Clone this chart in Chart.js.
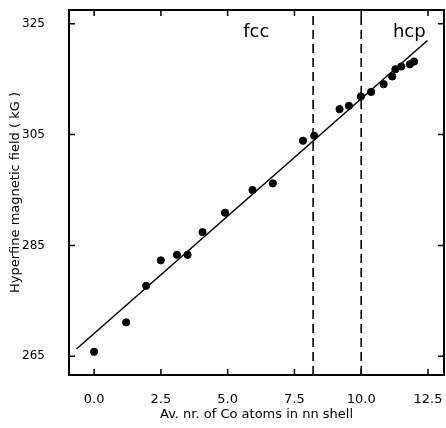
<!DOCTYPE html>
<html>
<head>
    <script src="https://cdn.jsdelivr.net/npm/chart.js"></script>
    <style>
        body { margin: 0; background: #fff; }
    </style>
</head>
<body>
    <canvas id="hfChart" width="446" height="428"></canvas>
    <script>
        // measured points
        const coAtoms = [0.0, 1.2, 1.95, 2.5, 3.1, 3.5, 4.06, 4.9, 5.93, 6.69, 7.82, 8.24,
                         9.19, 9.54, 9.99, 10.37, 10.84, 11.16, 11.28, 11.5, 11.82, 11.98];
        const hfField = [265.8, 271.1, 277.7, 282.3, 283.3, 283.3, 287.4, 290.9, 295.0, 296.2, 303.9, 304.8,
                         309.6, 310.2, 311.9, 312.7, 314.1, 315.5, 316.8, 317.3, 317.7, 318.2];

        // fitted straight line (end points)
        const fitX = [-0.66, 12.48];
        const fitY = [266.3, 322.0];

        // phase boundaries
        const boundaries = [8.2, 10.0];
        const phaseLabels = ['fcc', 'hcp'];
        const phaseLabelX = [6.07, 11.8];
        const phaseLabelY = 323.4;

        const xTicks = [0, 2.5, 5, 7.5, 10, 12.5];
        const yTicks = [265, 285, 305, 325];
        const xMin = -0.94, xMax = 13.1;
        const yMin = 261.6, yMax = 327.5;

        const font = "'DejaVu Sans'";

        const datasets = [{
            label: 'data',
            data: coAtoms.map((x, i) => ({x: x, y: hfField[i]})),
            backgroundColor: '#000',
            borderColor: '#000',
            pointRadius: 3.6,
            showLine: false
        }, {
            label: 'fit',
            data: fitX.map((x, i) => ({x: x, y: fitY[i]})),
            borderColor: '#000',
            borderWidth: 1.5,
            pointRadius: 0,
            showLine: true
        }];
        boundaries.forEach(b => {
            datasets.push({
                label: 'boundary',
                data: [{x: b, y: yMin}, {x: b, y: yMax}],
                borderColor: '#000',
                borderWidth: 1.6,
                borderDash: [9, 5],
                pointRadius: 0,
                showLine: true
            });
        });

        // frame, inward ticks and phase labels
        const framePlugin = {
            id: 'frame',
            afterDraw(chart) {
                const ctx = chart.ctx;
                const a = chart.chartArea;
                const xs = chart.scales.x, ys = chart.scales.y;
                ctx.save();
                ctx.strokeStyle = '#000';
                ctx.lineWidth = 2;
                ctx.strokeRect(a.left, a.top, a.right - a.left, a.bottom - a.top);
                ctx.lineWidth = 1.5;
                ctx.beginPath();
                xTicks.forEach(v => {
                    const px = xs.getPixelForValue(v);
                    ctx.moveTo(px, a.bottom); ctx.lineTo(px, a.bottom - 6);
                    ctx.moveTo(px, a.top); ctx.lineTo(px, a.top + 6);
                });
                yTicks.forEach(v => {
                    const py = ys.getPixelForValue(v);
                    ctx.moveTo(a.left, py); ctx.lineTo(a.left + 6, py);
                    ctx.moveTo(a.right, py); ctx.lineTo(a.right - 6, py);
                });
                ctx.stroke();
                ctx.fillStyle = '#000';
                ctx.font = "18px " + font;
                ctx.textAlign = 'center';
                ctx.textBaseline = 'middle';
                phaseLabels.forEach((t, i) => {
                    ctx.fillText(t, xs.getPixelForValue(phaseLabelX[i]), ys.getPixelForValue(phaseLabelY));
                });
                ctx.restore();
            }
        };

        new Chart(document.getElementById('hfChart'), {
            type: 'scatter',
            data: { datasets: datasets },
            options: {
                responsive: false,
                animation: false,
                layout: { autoPadding: false, padding: { top: 10, right: 2, left: 0, bottom: 0 } },
                plugins: { legend: { display: false }, tooltip: { enabled: false } },
                scales: {
                    x: {
                        type: 'linear',
                        min: xMin,
                        max: xMax,
                        grid: { display: false },
                        border: { display: false },
                        afterBuildTicks: s => { s.ticks = xTicks.map(v => ({value: v})); },
                        afterFit: s => { s.height = 53; s.paddingLeft = 0; s.paddingRight = 0; },
                        ticks: {
                            color: '#000',
                            padding: 9,
                            font: { family: font, size: 13 },
                            callback: v => Number(v).toFixed(1)
                        },
                        title: {
                            display: true,
                            text: 'Av. nr. of Co atoms in nn shell',
                            color: '#000',
                            font: { family: font, size: 13 },
                            padding: { top: 4, bottom: 6 }
                        }
                    },
                    y: {
                        type: 'linear',
                        min: yMin,
                        max: yMax,
                        grid: { display: false },
                        border: { display: false },
                        afterBuildTicks: s => { s.ticks = yTicks.map(v => ({value: v})); },
                        afterFit: s => { s.width = 69; s.paddingTop = 0; s.paddingBottom = 0; },
                        ticks: {
                            color: '#000',
                            padding: 16,
                            font: { family: font, size: 12 }
                        },
                        title: {
                            display: true,
                            text: 'Hyperfine magnetic field ( kG )',
                            color: '#000',
                            font: { family: font, size: 13 },
                            padding: { top: 8, bottom: 0 }
                        }
                    }
                }
            },
            plugins: [framePlugin]
        });
    </script>
</body>
</html>
